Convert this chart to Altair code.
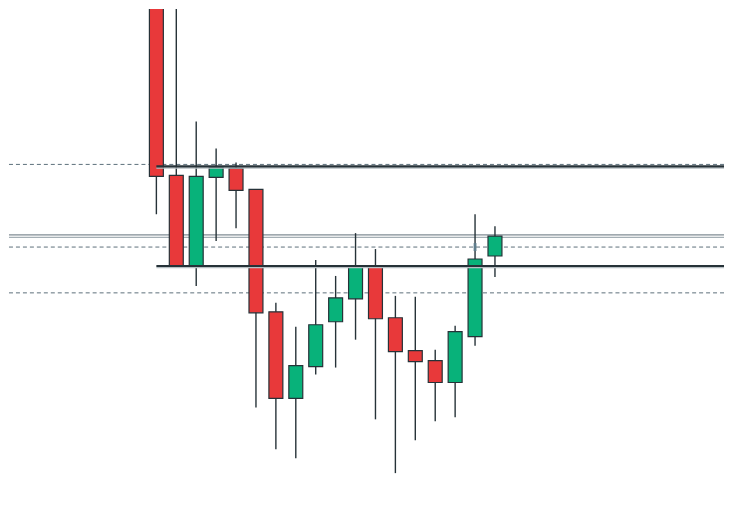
import altair as alt
import pandas as pd

# Candle data (price units)
opens  = [1.2040, 1.1825, 1.1734, 1.1823, 1.1832, 1.1811, 1.1688, 1.1601, 1.1633, 1.1678, 1.1701, 1.1734, 1.1682, 1.1649, 1.1639, 1.1617, 1.1663, 1.1744]
highs  = [1.2060, 1.1999, 1.1879, 1.1852, 1.1838, 1.1811, 1.1697, 1.1673, 1.1740, 1.1724, 1.1767, 1.1751, 1.1704, 1.1703, 1.1650, 1.1674, 1.1786, 1.1774]
lows   = [1.1786, 1.1733, 1.1714, 1.1759, 1.1772, 1.1592, 1.1550, 1.1541, 1.1625, 1.1632, 1.1660, 1.1580, 1.1526, 1.1559, 1.1578, 1.1582, 1.1654, 1.1723]
closes = [1.1824, 1.1733, 1.1824, 1.1833, 1.1810, 1.1687, 1.1601, 1.1634, 1.1675, 1.1702, 1.1734, 1.1681, 1.1648, 1.1638, 1.1617, 1.1668, 1.1741, 1.1764]

# Horizontal levels
dashed_levels = [1.1836, 1.1753, 1.1707]
gray_levels = [1.17652, 1.17628]
gray_colors = ["#5f6e78", "#8d9aa2"]
solid_levels = [1.1834, 1.1734]

# Small marker on candle 17
marker_index = [16]
marker_top = [1.1757]
marker_bottom = [1.1749]

idx = list(range(len(opens)))
df = pd.DataFrame({"i": idx, "open": opens, "high": highs, "low": lows, "close": closes})
df["left"] = df["i"] - 0.35
df["right"] = df["i"] + 0.35
df["dir"] = ["up" if c >= o else "down" for o, c in zip(opens, closes)]

X_DOM = [-7.4, 28.5]
Y_DOM = [1.1484, 1.1992]

xs = alt.Scale(domain=X_DOM, nice=False, zero=False)
ys = alt.Scale(domain=Y_DOM, nice=False, zero=False)

base = alt.Chart(df)

wicks = base.mark_rule(color="#263238", strokeWidth=1.4, clip=True).encode(
    x=alt.X("i:Q", scale=xs, axis=None),
    y=alt.Y("low:Q", scale=ys, axis=None),
    y2="high:Q",
)

bodies = base.mark_rect(stroke="#263238", strokeWidth=1.2, clip=True).encode(
    x=alt.X("left:Q", scale=xs, axis=None),
    x2="right:Q",
    y=alt.Y("open:Q", scale=ys, axis=None),
    y2="close:Q",
    color=alt.Color("dir:N", scale=alt.Scale(domain=["up", "down"], range=["#08b27a", "#e8393a"]), legend=None),
)

dash_df = pd.DataFrame({"y": dashed_levels})
dashed = alt.Chart(dash_df).mark_rule(color="#5c6f7a", strokeWidth=1, strokeDash=[4, 3]).encode(
    y=alt.Y("y:Q", scale=ys, axis=None)
)

gray_df = pd.DataFrame({"y": gray_levels, "c": gray_colors})
grays = alt.Chart(gray_df).mark_rule(strokeWidth=1).encode(
    y=alt.Y("y:Q", scale=ys, axis=None),
    color=alt.Color("c:N", scale=None),
)

solid_df = pd.DataFrame({"y": solid_levels, "x0": [0] * len(solid_levels), "x1": [X_DOM[1]] * len(solid_levels)})
shadow = alt.Chart(solid_df).mark_rule(color="#b7bfc3", strokeWidth=1.5, yOffset=1.6).encode(
    x=alt.X("x0:Q", scale=xs, axis=None),
    x2="x1:Q",
    y=alt.Y("y:Q", scale=ys, axis=None),
)
solids = alt.Chart(solid_df).mark_rule(color="#263238", strokeWidth=2.2).encode(
    x=alt.X("x0:Q", scale=xs, axis=None),
    x2="x1:Q",
    y=alt.Y("y:Q", scale=ys, axis=None),
)

mk_df = pd.DataFrame({"i": marker_index, "t": marker_top, "b": marker_bottom})
mk_df["l"] = mk_df["i"] - 0.07
mk_df["r"] = mk_df["i"] + 0.07
marker = alt.Chart(mk_df).mark_rect(color="#5f7d8c").encode(
    x=alt.X("l:Q", scale=xs, axis=None),
    x2="r:Q",
    y=alt.Y("t:Q", scale=ys, axis=None),
    y2="b:Q",
)

chart = alt.layer(dashed, grays, wicks, bodies, shadow, solids, marker).properties(
    width=718, height=508, padding=0, background="white"
).configure_view(stroke=None)

chart.save("out.html", embed_options={"renderer": "svg", "actions": False})
